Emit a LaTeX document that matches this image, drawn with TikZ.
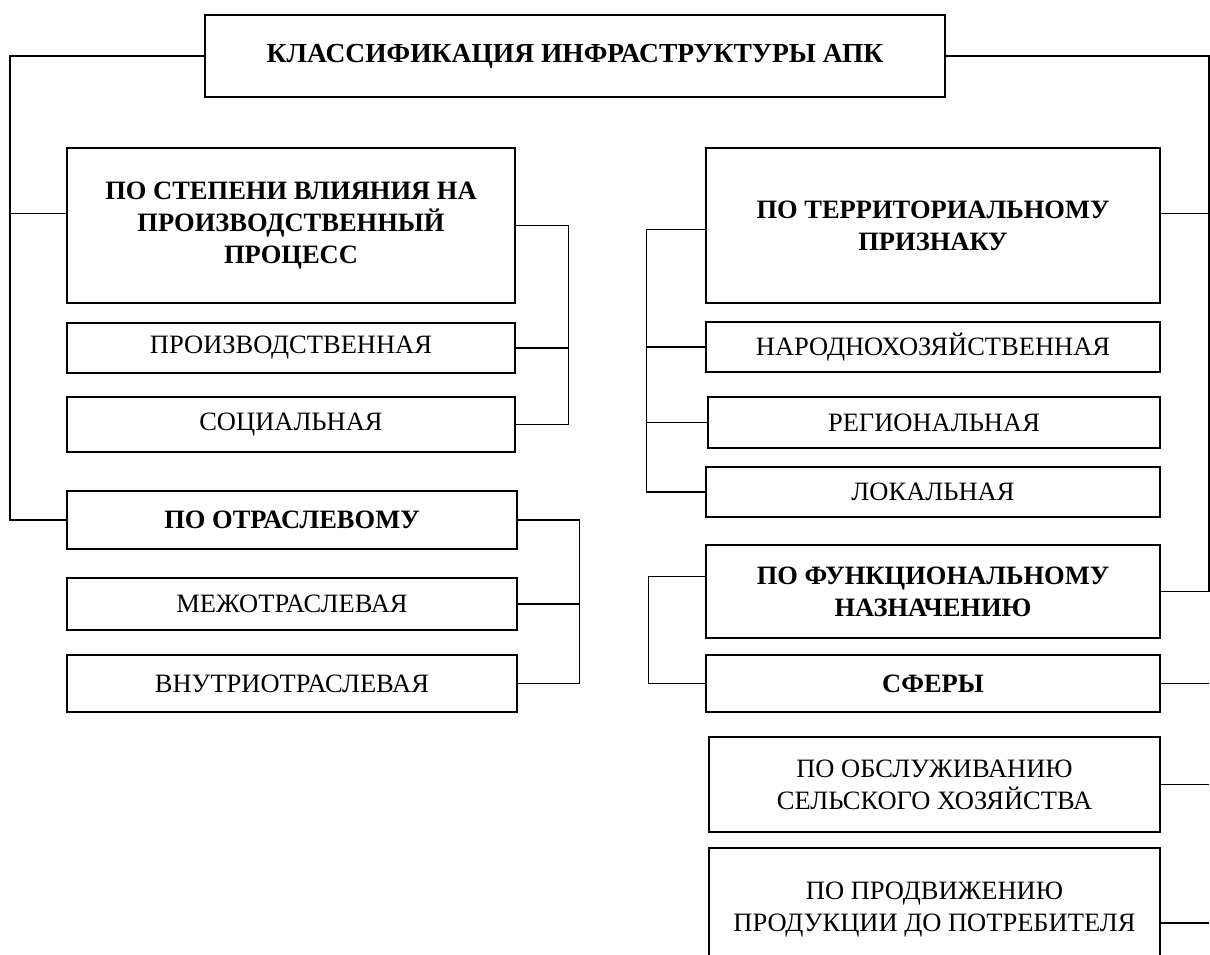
\documentclass[tikz,border=0pt]{standalone}
\usepackage{fontspec}
\setmainfont{Liberation Serif}
\begin{document}
\begin{tikzpicture}[x=1pt,y=-1pt,
  box/.style={draw,line width=2.8pt,inner sep=0pt,align=center,
    font=\fontsize{26.5}{32}\selectfont},
  head/.style={box,font=\fontsize{26.5}{32}\selectfont\bfseries},
  link/.style={line width=1.3pt}]
  \useasboundingbox (0,0) rectangle (1210,954);
  % title
  \node[head,minimum width=740,minimum height=82,font=\fontsize{27.5}{32}\selectfont\bfseries] (title) at (575,56) {КЛАССИФИКАЦИЯ ИНФРАСТРУКТУРЫ АПК};
  % left column
  \node[head,minimum width=448,minimum height=155] (infl) at (291,225.5) {ПО СТЕПЕНИ ВЛИЯНИЯ НА\\ПРОИЗВОДСТВЕННЫЙ\\ПРОЦЕСС};
  \node[box,minimum width=448,minimum height=50] (prod) at (291,348) {ПРОИЗВОДСТВЕННАЯ};
  \node[box,minimum width=448,minimum height=55] (soc) at (291,424.5) {СОЦИАЛЬНАЯ};
  \node[head,minimum width=450,minimum height=58] (otr) at (292,520) {ПО ОТРАСЛЕВОМУ};
  \node[box,minimum width=450,minimum height=52] (mezh) at (292,604) {МЕЖОТРАСЛЕВАЯ};
  \node[box,minimum width=450,minimum height=57] (vnut) at (292,683.5) {ВНУТРИОТРАСЛЕВАЯ};
  % right column
  \node[head,minimum width=454,minimum height=155] (terr) at (933,225.5) {ПО ТЕРРИТОРИАЛЬНОМУ\\ПРИЗНАКУ};
  \node[box,minimum width=454,minimum height=50] (narod) at (933,347) {НАРОДНОХОЗЯЙСТВЕННАЯ};
  \node[box,minimum width=452,minimum height=51] (reg) at (934,422.5) {РЕГИОНАЛЬНАЯ};
  \node[box,minimum width=454,minimum height=50] (lok) at (933,492) {ЛОКАЛЬНАЯ};
  \node[head,minimum width=454,minimum height=93] (func) at (933,591.5) {ПО ФУНКЦИОНАЛЬНОМУ\\НАЗНАЧЕНИЮ};
  \node[head,minimum width=454,minimum height=57] (sfery) at (933,683.5) {СФЕРЫ};
  \node[box,minimum width=451,minimum height=95] (obsl) at (934.5,784.5) {ПО ОБСЛУЖИВАНИЮ\\СЕЛЬСКОГО ХОЗЯЙСТВА};
  \node[box,minimum width=451,minimum height=124] (prodv) at (934.5,910) {ПО ПРОДВИЖЕНИЮ\\ПРОДУКЦИИ ДО ПОТРЕБИТЕЛЯ};
  % main brackets
  \path ([yshift=12pt]infl.west) coordinate (ia) ([yshift=12pt]terr.east) coordinate (ta);
  \draw[link] (title.west) -- (10,56) coordinate (lbus) |- (otr.west);
  \draw[link] (lbus |- ia) -- (ia);
  \draw[link] (title.east) -- (1209,56) coordinate (rbus) |- (func.east);
  \draw[link] (ta) -- (ta -| rbus);
  % left groups
  \draw[link] (infl.east) -- ++(52,0) coordinate (abus) |- (soc.east);
  \draw[link] (prod.east) -- (prod.east -| abus);
  \draw[link] (otr.east) -- ++(61,0) coordinate (obus) |- (vnut.east);
  \draw[link] (mezh.east) -- (mezh.east -| obus);
  % right groups
  \draw[link] ([xshift=2pt,yshift=-4pt]terr.west) -- ++(-60,0) coordinate (tbus) |- (lok.west);
  \foreach \n in {narod,reg}{\draw[link] (\n.west) -- (\n.west -| tbus);}
  \draw[link] ([yshift=15pt]func.west) -- ++(-56,0) coordinate (fbus) |- (sfery.west);
  \draw[link] (sfery.east) -- (sfery.east -| rbus);
  \draw[link] (obsl.east) -- (obsl.east -| rbus);
  \path ([yshift=-13pt]prodv.east) coordinate (pa);
  \draw[link] (pa) -- (pa -| rbus);
\end{tikzpicture}
\end{document}
